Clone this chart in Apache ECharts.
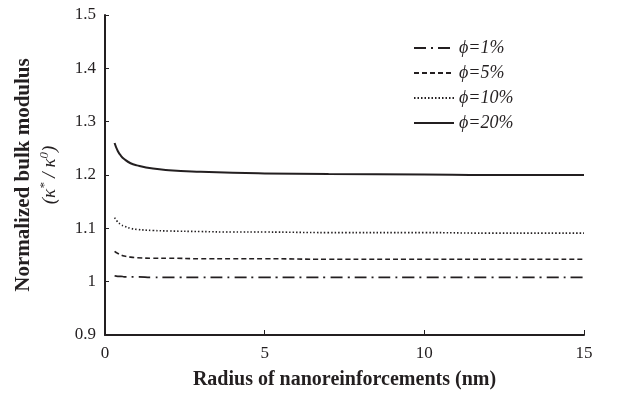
<!DOCTYPE html>
<html><head><meta charset="utf-8">
<script src="https://cdn.jsdelivr.net/npm/echarts@6/dist/echarts.min.js"></script>
<style>html,body{margin:0;padding:0;background:#fff}#c{width:635px;height:395px}</style>
</head><body><div id="c"></div>
<script>
const radius = [0.3, 0.4, 0.5, 0.6, 0.8, 1, 1.5, 2, 3, 4, 5, 7, 10, 12, 15];
const phi1  = [1.011, 1.010, 1.010, 1.009, 1.009, 1.009, 1.008, 1.008, 1.008, 1.008, 1.008, 1.008, 1.008, 1.008, 1.008];
const phi5  = [1.057, 1.053, 1.050, 1.048, 1.046, 1.045, 1.044, 1.044, 1.043, 1.043, 1.043, 1.042, 1.042, 1.042, 1.042];
const phi10 = [1.120, 1.112, 1.107, 1.104, 1.100, 1.098, 1.096, 1.095, 1.094, 1.093, 1.093, 1.092, 1.092, 1.091, 1.091];
const phi20 = [1.260, 1.245, 1.236, 1.230, 1.222, 1.218, 1.212, 1.209, 1.206, 1.204, 1.203, 1.202, 1.201, 1.200, 1.200];
const seriesNames = ['ϕ=1%', 'ϕ=5%', 'ϕ=10%', 'ϕ=20%'];
const xTicks = [0, 5, 10, 15];
const yTicks = [0.9, 1, 1.1, 1.2, 1.3, 1.4, 1.5];

const font = 'Liberation Serif';
const ink = '#231f20';
const pair = (ys) => radius.map((x, i) => [x, ys[i]]);
const chart = echarts.init(document.getElementById('c'));
const mk = (name, ys, type, w) => ({
  name, type: 'line', data: pair(ys), symbol: 'none', smooth: true, color: ink,
  itemStyle: { color: ink },
  lineStyle: { color: ink, width: w, type }
});
chart.setOption({
  animation: false,
  backgroundColor: '#fff',
  grid: { left: 105, right: 51, top: 15, bottom: 59 },
  legend: {
    orient: 'vertical', left: 408, top: 34, itemWidth: 40, itemHeight: 14, itemGap: 7,
    itemStyle: { opacity: 0, color: 'transparent', borderWidth: 0 },
    textStyle: { fontFamily: font, fontStyle: 'italic', fontSize: 18, color: ink, padding: [0, 0, 0, 0] },
    data: seriesNames
  },
  xAxis: {
    type: 'value', min: xTicks[0], max: xTicks[xTicks.length - 1], interval: 5,
    name: 'Radius of nanoreinforcements (nm)', nameLocation: 'middle', nameGap: 35,
    nameTextStyle: { fontFamily: font, fontWeight: 'bold', fontSize: 20, color: ink },
    axisLine: { lineStyle: { color: ink, width: 2 } },
    axisTick: { inside: true, length: 5, lineStyle: { color: ink, width: 1 } },
    axisLabel: { fontFamily: font, fontSize: 17, color: ink, margin: 10 },
    splitLine: { show: false }
  },
  yAxis: {
    type: 'value', min: yTicks[0], max: yTicks[yTicks.length - 1], interval: 0.1,
    name: '{b|Normalized bulk modulus}\n{i|(κ}{s|*}{i| / κ}{s|0}{i|)}',
    nameLocation: 'middle', nameGap: 42, nameRotate: 90,
    nameTextStyle: {
      fontFamily: font, color: ink,
      rich: {
        b: { fontFamily: font, fontWeight: 'bold', fontSize: 21, color: ink, lineHeight: 26 },
        i: { fontFamily: font, fontStyle: 'italic', fontSize: 19, color: ink, lineHeight: 26 },
        s: { fontFamily: font, fontStyle: 'italic', fontSize: 13, color: ink, padding: [0, 0, 10, 0] }
      }
    },
    axisLine: { show: true, lineStyle: { color: ink, width: 2 } },
    axisTick: { show: true, inside: true, length: 4, lineStyle: { color: ink, width: 1 } },
    axisLabel: {
      fontFamily: font, fontSize: 17, color: ink, margin: 9,
      formatter: v => String(Math.round(v * 10) / 10)
    },
    splitLine: { show: false }
  },
  series: [
    mk(seriesNames[0], phi1, [12, 5, 2, 5], 1.6),
    mk(seriesNames[1], phi5, [5, 3], 1.6),
    mk(seriesNames[2], phi10, [1.5, 2], 1.6),
    mk(seriesNames[3], phi20, 'solid', 2)
  ]
});
</script></body></html>
